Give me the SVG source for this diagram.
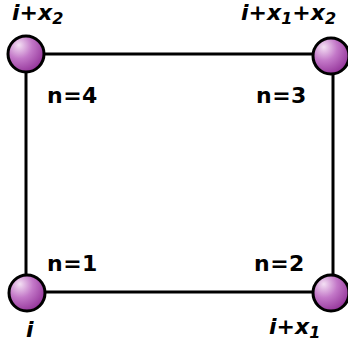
<svg xmlns="http://www.w3.org/2000/svg" width="348" height="347" viewBox="0 0 348 347">
<style>
.edge{stroke:#000;stroke-width:3;fill:none}
.node{fill:url(#g);stroke:#000;stroke-width:3}
.n{font-family:"DejaVu Sans",Verdana,sans-serif;font-weight:bold;font-size:22px;letter-spacing:0.5px;fill:#000}
.v{font-family:"DejaVu Sans",Verdana,sans-serif;font-weight:bold;font-style:italic;font-size:22px;fill:#000}
.s{font-size:16px}
</style>
<defs>
<radialGradient id="g" cx="0.32" cy="0.3" r="0.8" fx="0.3" fy="0.25">
<stop offset="0" stop-color="#f4e0f4"/>
<stop offset="0.45" stop-color="#c378c8"/>
<stop offset="1" stop-color="#8e2c94"/>
</radialGradient>
</defs>
<g id="edges">
<line class="edge" x1="26" y1="54" x2="331" y2="54"/>
<line class="edge" x1="26" y1="54" x2="26" y2="292"/>
<line class="edge" x1="333" y1="56" x2="333" y2="292"/>
<line class="edge" x1="26" y1="292" x2="331" y2="292"/>
</g>
<g id="n4">
<circle class="node" cx="26" cy="54" r="18"/>
<text class="v" x="12" y="20">i+x<tspan class="s" dy="4">2</tspan></text>
<text class="n" x="47" y="103">n=4</text>
</g>
<g id="n3">
<circle class="node" cx="331" cy="56" r="18"/>
<text class="v" x="241" y="20">i+x<tspan class="s" dy="4">1</tspan><tspan dy="-4">+x</tspan><tspan class="s" dy="4">2</tspan></text>
<text class="n" x="256" y="103">n=3</text>
</g>
<g id="n1">
<circle class="node" cx="27" cy="293" r="18"/>
<text class="v" x="26" y="337">i</text>
<text class="n" x="47" y="271">n=1</text>
</g>
<g id="n2">
<circle class="node" cx="331" cy="293" r="18"/>
<text class="v" x="269" y="334">i+x<tspan class="s" dy="4">1</tspan></text>
<text class="n" x="254" y="271">n=2</text>
</g>
</svg>
